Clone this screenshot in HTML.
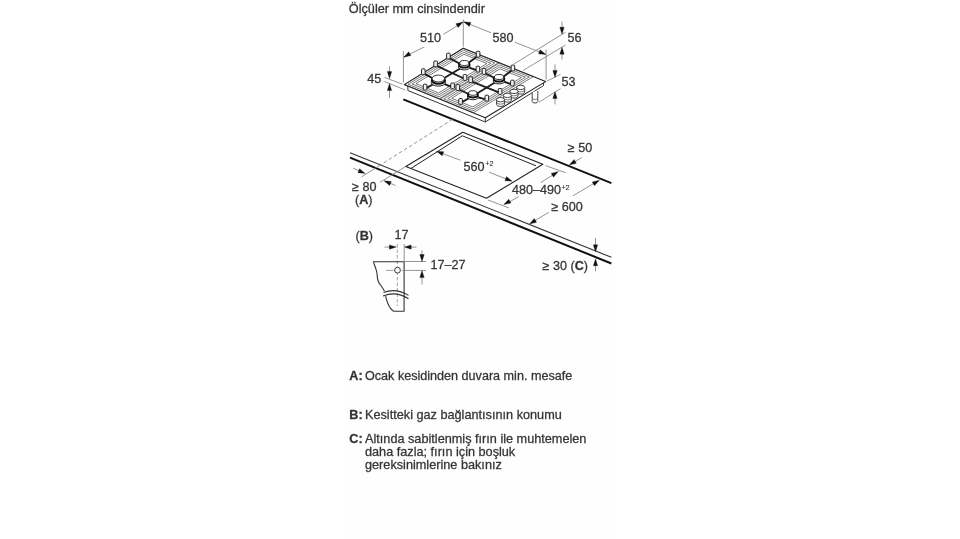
<!DOCTYPE html>
<html><head><meta charset="utf-8"><style>
html,body{margin:0;padding:0;background:#fff;}
svg{display:block;will-change:transform;}
text{font-family:"Liberation Sans",sans-serif;stroke:#444;stroke-width:0.3px;}
</style></head><body>
<svg width="960" height="539" viewBox="0 0 960 539">
<rect width="960" height="539" fill="#fff"/>
<rect x="346" y="0" width="269" height="539" fill="#fefefe"/>
<text x="348.80" y="13.40" font-size="12.7" font-weight="normal" text-anchor="start" fill="#2e2e2e">Ölçüler mm cinsindendir</text>
<line x1="463.30" y1="19.50" x2="463.30" y2="46.50" stroke="#888" stroke-width="0.9" />
<line x1="403.40" y1="51.00" x2="403.40" y2="82.50" stroke="#888" stroke-width="0.9" />
<line x1="546.10" y1="49.50" x2="546.10" y2="79.50" stroke="#888" stroke-width="0.9" />
<line x1="404.00" y1="57.00" x2="424.40" y2="46.90" stroke="#888" stroke-width="0.9" />
<line x1="443.30" y1="34.40" x2="463.00" y2="22.20" stroke="#888" stroke-width="0.9" />
<path d="M403.80,57.30 L408.64,51.78 L410.92,55.54 Z" stroke="#111" stroke-width="0.3" fill="#111" stroke-linejoin="round" />
<path d="M463.00,22.00 L458.17,27.53 L455.88,23.77 Z" stroke="#111" stroke-width="0.3" fill="#111" stroke-linejoin="round" />
<text x="430.50" y="42.30" font-size="12.6" font-weight="normal" text-anchor="middle" fill="#2e2e2e">510</text>
<line x1="463.60" y1="21.80" x2="491.10" y2="32.80" stroke="#888" stroke-width="0.9" />
<line x1="515.00" y1="42.30" x2="545.80" y2="54.40" stroke="#888" stroke-width="0.9" />
<path d="M463.60,21.80 L470.91,22.38 L469.27,26.46 Z" stroke="#111" stroke-width="0.3" fill="#111" stroke-linejoin="round" />
<path d="M545.80,54.40 L538.48,53.86 L540.11,49.77 Z" stroke="#111" stroke-width="0.3" fill="#111" stroke-linejoin="round" />
<text x="503.00" y="42.30" font-size="12.6" font-weight="normal" text-anchor="middle" fill="#2e2e2e">580</text>
<line x1="565.50" y1="32.20" x2="514.00" y2="64.00" stroke="#888" stroke-width="0.9" />
<line x1="565.50" y1="45.00" x2="523.00" y2="70.50" stroke="#888" stroke-width="0.9" />
<line x1="562.00" y1="21.50" x2="562.00" y2="30.00" stroke="#888" stroke-width="0.9" />
<path d="M562.00,34.20 L559.80,27.20 L564.20,27.20 Z" stroke="#111" stroke-width="0.3" fill="#111" stroke-linejoin="round" />
<line x1="562.00" y1="51.00" x2="562.00" y2="59.50" stroke="#888" stroke-width="0.9" />
<path d="M562.00,47.20 L564.20,54.20 L559.80,54.20 Z" stroke="#111" stroke-width="0.3" fill="#111" stroke-linejoin="round" />
<text x="567.50" y="42.30" font-size="12.6" font-weight="normal" text-anchor="start" fill="#2e2e2e">56</text>
<line x1="547.00" y1="81.00" x2="560.50" y2="74.40" stroke="#888" stroke-width="0.9" />
<line x1="539.00" y1="102.20" x2="560.50" y2="88.70" stroke="#888" stroke-width="0.9" />
<line x1="555.00" y1="64.40" x2="555.00" y2="72.00" stroke="#888" stroke-width="0.9" />
<path d="M555.00,77.40 L552.80,70.40 L557.20,70.40 Z" stroke="#111" stroke-width="0.3" fill="#111" stroke-linejoin="round" />
<line x1="555.00" y1="95.00" x2="555.00" y2="104.40" stroke="#888" stroke-width="0.9" />
<path d="M555.00,91.60 L557.20,98.60 L552.80,98.60 Z" stroke="#111" stroke-width="0.3" fill="#111" stroke-linejoin="round" />
<text x="561.50" y="85.60" font-size="12.6" font-weight="normal" text-anchor="start" fill="#2e2e2e">53</text>
<line x1="384.50" y1="77.40" x2="402.30" y2="84.10" stroke="#888" stroke-width="0.9" />
<line x1="384.50" y1="81.50" x2="405.30" y2="90.10" stroke="#888" stroke-width="0.9" />
<line x1="389.50" y1="66.30" x2="389.50" y2="74.00" stroke="#888" stroke-width="0.9" />
<path d="M389.50,78.60 L387.30,71.60 L391.70,71.60 Z" stroke="#111" stroke-width="0.3" fill="#111" stroke-linejoin="round" />
<line x1="389.50" y1="88.00" x2="389.50" y2="97.90" stroke="#888" stroke-width="0.9" />
<path d="M389.50,83.60 L391.70,90.60 L387.30,90.60 Z" stroke="#111" stroke-width="0.3" fill="#111" stroke-linejoin="round" />
<text x="367.20" y="82.70" font-size="12.6" font-weight="normal" text-anchor="start" fill="#2e2e2e">45</text>
<line x1="403.30" y1="99.40" x2="611.40" y2="183.10" stroke="#111" stroke-width="2.0" />
<line x1="350.00" y1="152.80" x2="611.40" y2="257.30" stroke="#333" stroke-width="1.1" />
<line x1="350.00" y1="157.60" x2="611.40" y2="263.50" stroke="#111" stroke-width="2.0" />
<line x1="452.60" y1="119.30" x2="381.20" y2="164.50" stroke="#888" stroke-width="0.9" stroke-dasharray="3.5,2.5"/>
<line x1="381.20" y1="164.50" x2="361.70" y2="176.80" stroke="#888" stroke-width="0.9" />
<line x1="405.50" y1="166.60" x2="380.00" y2="182.30" stroke="#888" stroke-width="0.9" />
<line x1="353.30" y1="168.30" x2="359.00" y2="170.80" stroke="#888" stroke-width="0.9" />
<path d="M365.20,173.40 L357.90,172.69 L359.61,168.64 Z" stroke="#111" stroke-width="0.3" fill="#111" stroke-linejoin="round" />
<line x1="390.00" y1="183.20" x2="395.60" y2="185.60" stroke="#888" stroke-width="0.9" />
<path d="M384.00,180.80 L391.30,181.50 L389.59,185.55 Z" stroke="#111" stroke-width="0.3" fill="#111" stroke-linejoin="round" />
<text x="352.00" y="190.60" font-size="12.6" font-weight="normal" text-anchor="start" fill="#2e2e2e">≥ 80</text>
<text x="355" y="203.7" font-size="12.6" fill="#2e2e2e">(<tspan font-weight="bold">A</tspan>)</text>
<path d="M405.80,166.50 L462.70,132.30 L542.80,164.20 L486.50,198.30 Z" stroke="#222" stroke-width="1.1" fill="none" stroke-linejoin="round" />
<path d="M411.00,168.40 L462.30,135.80 L536.00,165.80" stroke="#222" stroke-width="1.0" fill="none" stroke-linejoin="round" />
<line x1="436.40" y1="151.30" x2="460.40" y2="160.20" stroke="#888" stroke-width="0.9" />
<path d="M436.40,151.30 L443.73,151.68 L442.19,155.80 Z" stroke="#111" stroke-width="0.3" fill="#111" stroke-linejoin="round" />
<line x1="489.20" y1="172.20" x2="507.00" y2="179.30" stroke="#888" stroke-width="0.9" />
<path d="M512.20,181.20 L504.88,180.70 L506.48,176.60 Z" stroke="#111" stroke-width="0.3" fill="#111" stroke-linejoin="round" />
<text x="463.60" y="170.50" font-size="12.6" font-weight="normal" text-anchor="start" fill="#2e2e2e">560</text>
<text x="485.30" y="166.10" font-size="7.3" font-weight="normal" text-anchor="start" fill="#2e2e2e" style="stroke-width:0.1px">+2</text>
<line x1="545.50" y1="165.60" x2="565.60" y2="172.80" stroke="#888" stroke-width="0.9" />
<line x1="488.00" y1="200.00" x2="509.00" y2="208.00" stroke="#888" stroke-width="0.9" />
<line x1="540.70" y1="182.60" x2="553.50" y2="174.60" stroke="#888" stroke-width="0.9" />
<path d="M558.30,171.60 L553.54,177.18 L551.20,173.45 Z" stroke="#111" stroke-width="0.3" fill="#111" stroke-linejoin="round" />
<line x1="518.80" y1="196.50" x2="508.50" y2="202.40" stroke="#888" stroke-width="0.9" />
<path d="M503.80,204.60 L508.73,199.17 L510.95,202.96 Z" stroke="#111" stroke-width="0.3" fill="#111" stroke-linejoin="round" />
<text x="512.00" y="193.70" font-size="12.6" font-weight="normal" text-anchor="start" fill="#2e2e2e">480–490</text>
<text x="561.20" y="189.60" font-size="7.3" font-weight="normal" text-anchor="start" fill="#2e2e2e" style="stroke-width:0.1px">+2</text>
<line x1="581.90" y1="157.50" x2="574.00" y2="162.20" stroke="#888" stroke-width="0.9" />
<path d="M569.20,165.00 L574.06,159.50 L576.33,163.27 Z" stroke="#111" stroke-width="0.3" fill="#111" stroke-linejoin="round" />
<text x="567.80" y="151.70" font-size="12.6" font-weight="normal" text-anchor="start" fill="#2e2e2e">≥ 50</text>
<line x1="573.00" y1="195.80" x2="594.50" y2="183.00" stroke="#888" stroke-width="0.9" />
<path d="M599.40,180.30 L594.46,185.73 L592.25,181.93 Z" stroke="#111" stroke-width="0.3" fill="#111" stroke-linejoin="round" />
<line x1="548.80" y1="212.30" x2="534.00" y2="221.20" stroke="#888" stroke-width="0.9" />
<path d="M529.40,224.00 L534.30,218.54 L536.54,222.32 Z" stroke="#111" stroke-width="0.3" fill="#111" stroke-linejoin="round" />
<text x="551.40" y="210.80" font-size="12.6" font-weight="normal" text-anchor="start" fill="#2e2e2e">≥ 600</text>
<line x1="595.50" y1="237.90" x2="595.50" y2="246.00" stroke="#888" stroke-width="0.9" />
<path d="M595.50,251.80 L593.30,244.80 L597.70,244.80 Z" stroke="#111" stroke-width="0.3" fill="#111" stroke-linejoin="round" />
<line x1="595.50" y1="264.00" x2="595.50" y2="271.40" stroke="#888" stroke-width="0.9" />
<path d="M595.50,258.80 L597.70,265.80 L593.30,265.80 Z" stroke="#111" stroke-width="0.3" fill="#111" stroke-linejoin="round" />
<text x="542.5" y="270.4" font-size="12.6" fill="#2e2e2e">≥ 30 (<tspan font-weight="bold">C</tspan>)</text>
<text x="355.5" y="239.8" font-size="12.6" fill="#2e2e2e">(<tspan font-weight="bold">B</tspan>)</text>
<text x="394.50" y="238.60" font-size="12.6" font-weight="normal" text-anchor="start" fill="#2e2e2e">17</text>
<line x1="384.50" y1="247.10" x2="391.00" y2="247.10" stroke="#888" stroke-width="0.9" />
<path d="M396.40,247.10 L389.40,249.30 L389.40,244.90 Z" stroke="#111" stroke-width="0.3" fill="#111" stroke-linejoin="round" />
<line x1="409.50" y1="247.10" x2="416.40" y2="247.10" stroke="#888" stroke-width="0.9" />
<path d="M404.20,247.10 L411.20,244.90 L411.20,249.30 Z" stroke="#111" stroke-width="0.3" fill="#111" stroke-linejoin="round" />
<line x1="397.30" y1="244.00" x2="397.30" y2="306.00" stroke="#999" stroke-width="0.9" stroke-dasharray="3.5,2"/>
<line x1="404.20" y1="244.00" x2="404.20" y2="261.50" stroke="#888" stroke-width="0.9" />
<path d="M373.3,261.7 L404.1,261.7 L404.1,311.2 L393.4,311.2 L390.6,308.5 C388,305 386.5,300 385.6,296.2" stroke="#333" stroke-width="1.1" fill="none" stroke-linejoin="round"/>
<path d="M373.3,261.7 C374,264 375.5,267 376.7,271.7 C377.4,275 377,279 378.4,281.7 C379.5,284 382,286.5 384.5,291.2" stroke="#333" stroke-width="1.1" fill="none"/>
<path d="M383.5,292.6 Q396,287.6 408.5,295.4" stroke="#333" stroke-width="1.1" fill="none"/>
<path d="M383,296 Q396,290.6 408.5,298.7" stroke="#333" stroke-width="1.1" fill="none"/>
<circle cx="397.5" cy="270.2" r="2.9" stroke="#333" stroke-width="1" fill="#fff"/>
<line x1="386.00" y1="270.40" x2="393.50" y2="270.40" stroke="#999" stroke-width="0.9" />
<line x1="402.00" y1="270.40" x2="426.00" y2="270.40" stroke="#888" stroke-width="0.9" />
<line x1="404.20" y1="261.50" x2="426.00" y2="261.50" stroke="#888" stroke-width="0.9" />
<line x1="422.00" y1="250.40" x2="422.00" y2="256.00" stroke="#888" stroke-width="0.9" />
<path d="M422.00,261.50 L419.80,254.50 L424.20,254.50 Z" stroke="#111" stroke-width="0.3" fill="#111" stroke-linejoin="round" />
<line x1="422.00" y1="276.00" x2="422.00" y2="284.50" stroke="#888" stroke-width="0.9" />
<path d="M422.00,270.60 L424.20,277.60 L419.80,277.60 Z" stroke="#111" stroke-width="0.3" fill="#111" stroke-linejoin="round" />
<text x="430.50" y="269.00" font-size="12.6" font-weight="normal" text-anchor="start" fill="#2e2e2e">17–27</text>
<text x="349.3" y="380.4" font-size="12.6" fill="#2e2e2e"><tspan font-weight="bold">A:</tspan></text>
<text x="365.00" y="380.40" font-size="12.6" font-weight="normal" text-anchor="start" fill="#2e2e2e">Ocak kesidinden duvara min. mesafe</text>
<text x="349.3" y="418.6" font-size="12.6" fill="#2e2e2e"><tspan font-weight="bold">B:</tspan></text>
<text x="365.00" y="418.60" font-size="12.7" font-weight="normal" text-anchor="start" fill="#2e2e2e">Kesitteki gaz bağlantısının konumu</text>
<text x="349.3" y="443.3" font-size="12.6" fill="#2e2e2e"><tspan font-weight="bold">C:</tspan></text>
<text x="365.00" y="443.30" font-size="12.7" font-weight="normal" text-anchor="start" fill="#2e2e2e">Altında sabitlenmiş fırın ile muhtemelen</text>
<text x="365.00" y="456.00" font-size="12.7" font-weight="normal" text-anchor="start" fill="#2e2e2e">daha fazla; fırın için boşluk</text>
<text x="365.00" y="468.80" font-size="12.7" font-weight="normal" text-anchor="start" fill="#2e2e2e">gereksinimlerine bakınız</text>
<path d="M404.3,84.6 L407.9,86.3 L407.9,90.5 L485.3,122 L543.5,85.6 L543.5,82.9" stroke="#333" stroke-width="1" fill="#fff"/>
<line x1="485.30" y1="117.80" x2="485.30" y2="122.00" stroke="#333" stroke-width="1" />
<path d="M404.30,84.60 L463.30,48.30 L545.60,81.60 L485.30,117.80 Z" stroke="#222" stroke-width="1.1" fill="#fff" stroke-linejoin="round" />
<path d="M404.30,84.60 L463.30,48.30 L498.69,62.62 L439.13,98.88 Z" stroke="#333" stroke-width="0.65" fill="none" stroke-linejoin="round" />
<path d="M408.18,84.29 L463.50,50.28 L494.76,62.93 L438.98,96.90 Z" stroke="#333" stroke-width="0.65" fill="none" stroke-linejoin="round" />
<path d="M412.07,83.97 L463.69,52.25 L490.83,63.24 L438.83,94.93 Z" stroke="#333" stroke-width="0.65" fill="none" stroke-linejoin="round" />
<path d="M415.96,83.66 L463.89,54.23 L486.90,63.55 L438.67,92.96 Z" stroke="#333" stroke-width="0.65" fill="none" stroke-linejoin="round" />
<path d="M439.94,99.21 L499.51,62.95 L533.25,76.61 L473.15,112.82 Z" stroke="#333" stroke-width="0.65" fill="none" stroke-linejoin="round" />
<path d="M443.84,98.90 L499.69,64.93 L529.31,76.91 L473.02,110.85 Z" stroke="#333" stroke-width="0.65" fill="none" stroke-linejoin="round" />
<path d="M447.75,98.58 L499.87,66.90 L525.36,77.22 L472.88,108.88 Z" stroke="#333" stroke-width="0.65" fill="none" stroke-linejoin="round" />
<path d="M451.65,98.27 L500.05,68.87 L521.41,77.53 L472.75,106.91 Z" stroke="#333" stroke-width="0.65" fill="none" stroke-linejoin="round" />
<line x1="435.60" y1="65.40" x2="465.00" y2="79.00" stroke="#1e1e1e" stroke-width="1.9" stroke-linecap="round"/>
<line x1="470.60" y1="81.20" x2="500.10" y2="92.90" stroke="#1e1e1e" stroke-width="1.9" stroke-linecap="round"/>
<line x1="438.40" y1="81.50" x2="464.30" y2="66.00" stroke="#1e1e1e" stroke-width="1.9" stroke-linecap="round"/>
<line x1="472.90" y1="96.00" x2="499.00" y2="80.00" stroke="#1e1e1e" stroke-width="1.9" stroke-linecap="round"/>
<line x1="423.30" y1="73.20" x2="438.40" y2="81.50" stroke="#1e1e1e" stroke-width="1.9" stroke-linecap="round"/>
<line x1="425.10" y1="88.60" x2="438.40" y2="81.50" stroke="#1e1e1e" stroke-width="1.9" stroke-linecap="round"/>
<line x1="452.60" y1="87.40" x2="438.40" y2="81.50" stroke="#1e1e1e" stroke-width="1.9" stroke-linecap="round"/>
<line x1="448.40" y1="57.60" x2="464.30" y2="66.00" stroke="#1e1e1e" stroke-width="1.9" stroke-linecap="round"/>
<line x1="478.10" y1="55.70" x2="464.30" y2="66.00" stroke="#1e1e1e" stroke-width="1.9" stroke-linecap="round"/>
<line x1="477.90" y1="70.60" x2="464.30" y2="66.00" stroke="#1e1e1e" stroke-width="1.9" stroke-linecap="round"/>
<line x1="484.00" y1="72.90" x2="499.00" y2="80.00" stroke="#1e1e1e" stroke-width="1.9" stroke-linecap="round"/>
<line x1="512.90" y1="69.50" x2="499.00" y2="80.00" stroke="#1e1e1e" stroke-width="1.9" stroke-linecap="round"/>
<line x1="512.40" y1="84.60" x2="499.00" y2="80.00" stroke="#1e1e1e" stroke-width="1.9" stroke-linecap="round"/>
<line x1="457.80" y1="89.00" x2="472.90" y2="96.00" stroke="#1e1e1e" stroke-width="1.9" stroke-linecap="round"/>
<line x1="460.60" y1="102.90" x2="472.90" y2="96.00" stroke="#1e1e1e" stroke-width="1.9" stroke-linecap="round"/>
<line x1="486.80" y1="99.60" x2="472.90" y2="96.00" stroke="#1e1e1e" stroke-width="1.9" stroke-linecap="round"/>
<rect x="421.50" y="68.80" width="3.6" height="5.8" rx="0.9" fill="#f2f2f2" stroke="#222" stroke-width="1.0"/>
<rect x="433.80" y="61.00" width="3.6" height="5.8" rx="0.9" fill="#f2f2f2" stroke="#222" stroke-width="1.0"/>
<rect x="446.60" y="53.20" width="3.6" height="5.8" rx="0.9" fill="#f2f2f2" stroke="#222" stroke-width="1.0"/>
<rect x="476.30" y="51.30" width="3.6" height="5.8" rx="0.9" fill="#f2f2f2" stroke="#222" stroke-width="1.0"/>
<rect x="423.30" y="84.20" width="3.6" height="5.8" rx="0.9" fill="#f2f2f2" stroke="#222" stroke-width="1.0"/>
<rect x="450.80" y="83.00" width="3.6" height="5.8" rx="0.9" fill="#f2f2f2" stroke="#222" stroke-width="1.0"/>
<rect x="463.20" y="74.60" width="3.6" height="5.8" rx="0.9" fill="#f2f2f2" stroke="#222" stroke-width="1.0"/>
<rect x="476.10" y="66.20" width="3.6" height="5.8" rx="0.9" fill="#f2f2f2" stroke="#222" stroke-width="1.0"/>
<rect x="456.00" y="84.60" width="3.6" height="5.8" rx="0.9" fill="#f2f2f2" stroke="#222" stroke-width="1.0"/>
<rect x="468.80" y="76.80" width="3.6" height="5.8" rx="0.9" fill="#f2f2f2" stroke="#222" stroke-width="1.0"/>
<rect x="482.20" y="68.50" width="3.6" height="5.8" rx="0.9" fill="#f2f2f2" stroke="#222" stroke-width="1.0"/>
<rect x="511.10" y="65.10" width="3.6" height="5.8" rx="0.9" fill="#f2f2f2" stroke="#222" stroke-width="1.0"/>
<rect x="458.80" y="98.50" width="3.6" height="5.8" rx="0.9" fill="#f2f2f2" stroke="#222" stroke-width="1.0"/>
<rect x="485.00" y="95.20" width="3.6" height="5.8" rx="0.9" fill="#f2f2f2" stroke="#222" stroke-width="1.0"/>
<rect x="498.30" y="88.50" width="3.6" height="5.8" rx="0.9" fill="#f2f2f2" stroke="#222" stroke-width="1.0"/>
<rect x="510.60" y="80.20" width="3.6" height="5.8" rx="0.9" fill="#f2f2f2" stroke="#222" stroke-width="1.0"/>
<ellipse cx="438.40" cy="82.50" rx="7.20" ry="3.60" fill="#fff" stroke="#222" stroke-width="1"/>
<ellipse cx="438.40" cy="80.30" rx="6.62" ry="3.46" fill="#fff" stroke="#111" stroke-width="2.0"/>
<ellipse cx="438.40" cy="78.50" rx="6.20" ry="3.41" fill="#fff" stroke="#222" stroke-width="0.9"/>
<ellipse cx="464.30" cy="67.00" rx="5.80" ry="2.90" fill="#fff" stroke="#222" stroke-width="1"/>
<ellipse cx="464.30" cy="64.80" rx="5.34" ry="2.78" fill="#fff" stroke="#111" stroke-width="2.0"/>
<ellipse cx="464.30" cy="63.00" rx="4.60" ry="2.53" fill="#fff" stroke="#222" stroke-width="0.9"/>
<ellipse cx="499.00" cy="81.00" rx="5.80" ry="2.90" fill="#fff" stroke="#222" stroke-width="1"/>
<ellipse cx="499.00" cy="78.80" rx="5.34" ry="2.78" fill="#fff" stroke="#111" stroke-width="2.0"/>
<ellipse cx="499.00" cy="77.00" rx="4.60" ry="2.53" fill="#fff" stroke="#222" stroke-width="0.9"/>
<ellipse cx="472.90" cy="97.00" rx="5.40" ry="2.70" fill="#fff" stroke="#222" stroke-width="1"/>
<ellipse cx="472.90" cy="94.80" rx="4.97" ry="2.59" fill="#fff" stroke="#111" stroke-width="2.0"/>
<ellipse cx="472.90" cy="93.00" rx="4.20" ry="2.31" fill="#fff" stroke="#222" stroke-width="0.9"/>
<path d="M516.70,87.40 L516.70,92.00 A4.0,2.2 0 0 0 524.70,92.00 L524.70,87.40" fill="#fff" stroke="#333" stroke-width="0.9"/>
<path d="M516.70,89.70 A4.0,2.2 0 0 0 524.70,89.70" fill="none" stroke="#555" stroke-width="0.8"/>
<ellipse cx="520.70" cy="87.40" rx="4.0" ry="2.20" fill="#fff" stroke="#333" stroke-width="0.9"/>
<path d="M510.00,91.40 L510.00,96.00 A4.0,2.2 0 0 0 518.00,96.00 L518.00,91.40" fill="#fff" stroke="#333" stroke-width="0.9"/>
<path d="M510.00,93.70 A4.0,2.2 0 0 0 518.00,93.70" fill="none" stroke="#555" stroke-width="0.8"/>
<ellipse cx="514.00" cy="91.40" rx="4.0" ry="2.20" fill="#fff" stroke="#333" stroke-width="0.9"/>
<path d="M503.40,95.40 L503.40,100.00 A4.0,2.2 0 0 0 511.40,100.00 L511.40,95.40" fill="#fff" stroke="#333" stroke-width="0.9"/>
<path d="M503.40,97.70 A4.0,2.2 0 0 0 511.40,97.70" fill="none" stroke="#555" stroke-width="0.8"/>
<ellipse cx="507.40" cy="95.40" rx="4.0" ry="2.20" fill="#fff" stroke="#333" stroke-width="0.9"/>
<path d="M496.50,99.70 L496.50,104.30 A4.0,2.2 0 0 0 504.50,104.30 L504.50,99.70" fill="#fff" stroke="#333" stroke-width="0.9"/>
<path d="M496.50,102.00 A4.0,2.2 0 0 0 504.50,102.00" fill="none" stroke="#555" stroke-width="0.8"/>
<ellipse cx="500.50" cy="99.70" rx="4.0" ry="2.20" fill="#fff" stroke="#333" stroke-width="0.9"/>
<path d="M532.2,92 L532.2,101.5 A2.8,1.5 0 0 0 537.8,101.5 L537.8,91" fill="#fff" stroke="#333" stroke-width="0.9"/>
<path d="M532.2,98 A2.8,1.5 0 0 0 537.8,98" fill="none" stroke="#555" stroke-width="0.7"/>
</svg></body></html>
